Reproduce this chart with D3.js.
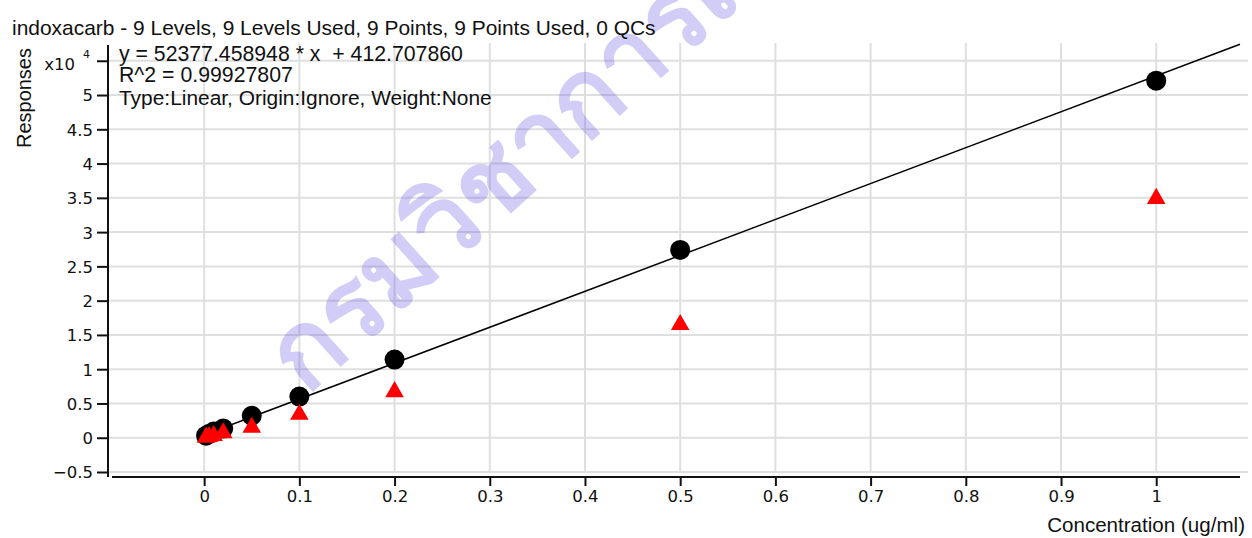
<!DOCTYPE html>
<html>
<head>
<meta charset="utf-8">
<script src="https://cdnjs.cloudflare.com/ajax/libs/d3/7.8.5/d3.min.js"></script>
<style>
  html, body { margin: 0; padding: 0; background: #fff; }
  text { font-family: "Liberation Sans", Arial, sans-serif; fill: #111; }
</style>
</head>
<body>
<div id="chart"></div>
<script>
// calibration data
var concentrations = [0.002, 0.005, 0.01, 0.02, 0.05, 0.1, 0.2, 0.5, 1];
var responses      = [300, 550, 900, 1350, 3200, 6000, 11400, 27400, 52100];
var qualifier      = [60, 150, 300, 700, 1500, 3400, 6700, 16500, 34900];
var slope = 52377.458948, intercept = 412.707860;

var xTicks = [0, 0.1, 0.2, 0.3, 0.4, 0.5, 0.6, 0.7, 0.8, 0.9, 1];
var yTicks = [-5000, 0, 5000, 10000, 15000, 20000, 25000, 30000, 35000, 40000, 45000, 50000, 55000];

var titleText = "indoxacarb - 9 Levels, 9 Levels Used, 9 Points, 9 Points Used, 0 QCs";
var fitLines = ["y = 52377.458948 * x  + 412.707860", "R^2 = 0.99927807", "Type:Linear, Origin:Ignore, Weight:None"];
var watermark = "กรมวิชาการเกษตร";

var W = 1252, H = 538;
var svg = d3.select("#chart").append("svg").attr("width", W).attr("height", H);

var x = d3.scaleLinear().domain([-0.101, 1.088]).range([108, 1240]);
var y = d3.scaleLinear().domain([-5000, 57300]).range([472, 45]);

// fit a text element to a measured width
function fitWidth(sel, target) {
  var w = sel.node().getComputedTextLength();
  var fs = parseFloat(sel.style("font-size"));
  sel.style("font-size", (fs * target / w) + "px");
}

//////////////////// grid ////////////////////
var grid = svg.append("g").attr("class", "grid");
grid.selectAll(".hg").data(yTicks).enter().append("line")
  .attr("x1", 108).attr("x2", 1248)
  .attr("y1", d => y(d)).attr("y2", d => y(d))
  .style("stroke", "#dfdfdf").style("stroke-width", 2);
grid.selectAll(".vg").data(xTicks).enter().append("line")
  .attr("x1", d => x(d)).attr("x2", d => x(d))
  .attr("y1", 43).attr("y2", 472)
  .style("stroke", "#dfdfdf").style("stroke-width", 2);

//////////////////// watermark ////////////////////
svg.append("text")
  .attr("transform", "translate(306,396) rotate(-42)")
  .style("font-size", "104px")
  .style("font-weight", "bold")
  .style("font-family", "Noto Sans, DejaVu Sans, sans-serif")
  .style("fill", "rgba(105,90,230,0.3)")
  .text(watermark);

//////////////////// axes ////////////////////
var tickFont = "DejaVu Sans, Verdana, sans-serif";
var yAxis = svg.append("g").attr("transform", "translate(108,0)")
  .call(d3.axisLeft(y).tickValues(yTicks).tickSize(11).tickSizeOuter(0).tickPadding(4)
    .tickFormat(d => d === 55000 ? "" : d3.format("~g")(d / 10000)));
yAxis.select(".domain").attr("d", "M0,45V477").style("stroke", "#111").style("stroke-width", 2);
yAxis.selectAll(".tick line").style("stroke", "#111").style("stroke-width", 2);
yAxis.selectAll(".tick text").style("font-size", "16.5px").style("font-family", tickFont)
  .attr("dy", "0.36em").style("fill", "#111");

var xAxis = svg.append("g").attr("transform", "translate(0,477)")
  .call(d3.axisBottom(x).tickValues(xTicks).tickSize(9).tickSizeOuter(0).tickPadding(4)
    .tickFormat(d => d3.format("~g")(d)));
xAxis.select(".domain").attr("d", "M112,0H1240").style("stroke", "#111").style("stroke-width", 2);
xAxis.selectAll(".tick line").style("stroke", "#111").style("stroke-width", 2);
xAxis.selectAll(".tick text").style("font-size", "16.5px").style("font-family", tickFont).style("fill", "#111");

// exponent label
svg.append("text").attr("x", 75).attr("y", 70).attr("text-anchor", "end")
  .style("font-size", "16.5px").style("font-family", tickFont).text("x10");
svg.append("text").attr("x", 83).attr("y", 58)
  .style("font-size", "11px").style("font-family", tickFont).text("4");

// axis titles
var yt = svg.append("text").attr("transform", "translate(31,98) rotate(-90)").attr("text-anchor", "middle")
  .style("font-size", "16px").text("Responses");
fitWidth(yt, 100);
var xt = svg.append("text").attr("x", 1245).attr("y", 532).attr("text-anchor", "end")
  .style("font-size", "16px").text("Concentration (ug/ml)");
fitWidth(xt, 198);

//////////////////// fit line and points ////////////////////
var lineGen = d3.line().x(d => x(d)).y(d => y(slope * d + intercept));
svg.append("path").datum([0, x.domain()[1]])
  .attr("d", lineGen)
  .style("fill", "none").style("stroke", "#000").style("stroke-width", 1.5);

svg.selectAll(".cal").data(concentrations).enter().append("circle")
  .attr("class", "cal")
  .attr("cx", d => x(d))
  .attr("cy", (d, i) => y(responses[i]))
  .attr("r", 10)
  .style("fill", "#000");

var triangle = d3.symbol().type(d3.symbolTriangle).size(150);
svg.selectAll(".qual").data(concentrations).enter().append("path")
  .attr("class", "qual")
  .attr("transform", (d, i) => "translate(" + x(d) + "," + y(qualifier[i]) + ")")
  .attr("d", triangle)
  .style("fill", "#ff0000");

//////////////////// texts ////////////////////
var title = svg.append("text").attr("x", 12).attr("y", 35).style("font-size", "16px").text(titleText);
fitWidth(title, 644);

var fitY = [61, 82, 105];
var fitW = [344, 174, 373];
fitLines.forEach(function(t, i) {
  var tt = svg.append("text").attr("x", 119).attr("y", fitY[i])
    .style("font-size", "16px").style("white-space", "pre").text(t);
  fitWidth(tt, fitW[i]);
});
</script>
</body>
</html>
